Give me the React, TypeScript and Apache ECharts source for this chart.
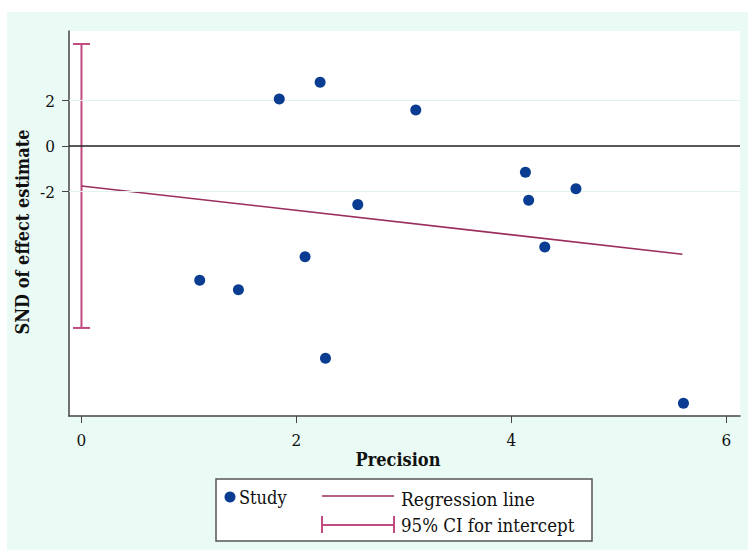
import React, { useEffect, useRef } from "react";
import * as echarts from "echarts";

// Study points (precision, standard normal deviate)
const precision = [1.84, 2.22, 3.11, 4.13, 4.16, 4.6, 2.57, 4.31, 2.08, 1.1, 1.46, 2.27, 5.6];
const snd = [2.07, 2.81, 1.59, -1.15, -2.38, -1.87, -2.57, -4.43, -4.86, -5.89, -6.31, -9.32, -11.3];

// Regression line end points
const regressionX = [0, 5.59];
const regressionY = [-1.75, -4.75];

// 95% CI for intercept (at precision 0)
const ciX = [0];
const ciLow = [-7.99];
const ciHigh = [4.49];

// Ticks
const xTicks = [0, 2, 4, 6];
const yTicks = [-2, 0, 2];
const gridLines = [-2, 2];

const FONT = "'DejaVu Serif Condensed', 'DejaVu Serif', serif";
const NAVY = "#0a3d91";
const MAROON = "#9b2d5c";
const CI_COLOR = "#c04b80";

export default function App() {
  const ref = useRef<HTMLDivElement>(null);

  useEffect(() => {
    document.body.style.margin = "0";
    if (!ref.current) return;
    const chart = echarts.init(ref.current, null, { renderer: "svg" });

    const option: any = {
      animation: false,
      backgroundColor: "#ffffff",
      grid: { left: 69, top: 31, width: 671, height: 385, show: false },
      xAxis: {
        type: "value",
        min: -0.116,
        max: 6.126,
        axisLine: { show: true, onZero: false, lineStyle: { color: "#444", width: 1.5 } },
        axisTick: { show: true, length: 7, customValues: xTicks, lineStyle: { color: "#444", width: 1 } },
        axisLabel: { customValues: xTicks, margin: 15, fontSize: 17, color: "#111", fontFamily: FONT },
        splitLine: { show: false },
      },
      yAxis: {
        type: "value",
        min: -11.86,
        max: 5.06,
        axisLine: { show: true, onZero: false, lineStyle: { color: "#444", width: 1.5 } },
        axisTick: { show: true, length: 7, customValues: yTicks, lineStyle: { color: "#444", width: 1 } },
        axisLabel: { customValues: yTicks, margin: 14, fontSize: 17, color: "#111", fontFamily: FONT },
        splitLine: { show: false },
      },
      series: [
        {
          type: "line",
          name: "grid",
          data: [],
          silent: true,
          z: 1,
          markLine: {
            silent: true,
            symbol: "none",
            label: { show: false },
            data: [
              ...gridLines.map((v) => ({ yAxis: v, lineStyle: { color: "#e4f2ef", width: 1.2, type: "solid" } })),
              { yAxis: 0, lineStyle: { color: "#222", width: 1.5, type: "solid" } },
            ],
          },
        },
        {
          type: "line",
          name: "Regression line",
          data: regressionX.map((x, i) => [x, regressionY[i]]),
          showSymbol: false,
          lineStyle: { color: MAROON, width: 1.6 },
          z: 3,
        },
        {
          type: "custom",
          name: "95% CI for intercept",
          data: ciX.map((x, i) => [x, ciLow[i], ciHigh[i]]),
          z: 3,
          renderItem: (params: any, api: any) => {
            const x = api.value(0);
            const lo = api.coord([x, api.value(1)]);
            const hi = api.coord([x, api.value(2)]);
            const hw = 8.5;
            const style = { stroke: CI_COLOR, lineWidth: 2 };
            return {
              type: "group",
              children: [
                { type: "line", shape: { x1: lo[0], y1: lo[1], x2: hi[0], y2: hi[1] }, style },
                { type: "line", shape: { x1: lo[0] - hw, y1: lo[1], x2: lo[0] + hw, y2: lo[1] }, style },
                { type: "line", shape: { x1: hi[0] - hw, y1: hi[1], x2: hi[0] + hw, y2: hi[1] }, style },
              ],
            };
          },
        },
        {
          type: "scatter",
          name: "Study",
          data: precision.map((x, i) => [x, snd[i]]),
          symbolSize: 11,
          itemStyle: { color: NAVY, opacity: 1 },
          z: 5,
        },
      ],
      graphic: [
        { type: "rect", z: -10, shape: { x: 7, y: 12, width: 741, height: 538 }, style: { fill: "#eafaf5" } },
        { type: "rect", z: -9, shape: { x: 69, y: 31, width: 671, height: 385 }, style: { fill: "#ffffff" } },
        {
          type: "text",
          x: 22,
          y: 232,
          rotation: Math.PI / 2,
          style: {
            text: "SND of effect estimate",
            font: `bold 18px ${FONT}`,
            fill: "#111",
            align: "center",
            verticalAlign: "middle",
          },
        },
        {
          type: "text",
          x: 398,
          y: 459,
          style: {
            text: "Precision",
            font: `bold 18px ${FONT}`,
            fill: "#111",
            align: "center",
            verticalAlign: "middle",
          },
        },
        // Legend
        { type: "rect", shape: { x: 216, y: 479, width: 376, height: 62 }, style: { fill: "#ffffff", stroke: "#555", lineWidth: 1.5 } },
        { type: "circle", shape: { cx: 230, cy: 497, r: 5.5 }, style: { fill: NAVY } },
        {
          type: "text",
          x: 239,
          y: 497,
          style: { text: "Study", font: `18px ${FONT}`, fill: "#111", align: "left", verticalAlign: "middle" },
        },
        { type: "line", shape: { x1: 322, y1: 496, x2: 394, y2: 496 }, style: { stroke: MAROON, lineWidth: 1.6 } },
        {
          type: "text",
          x: 401,
          y: 499,
          style: { text: "Regression line", font: `19px ${FONT}`, fill: "#111", align: "left", verticalAlign: "middle" },
        },
        { type: "line", shape: { x1: 322, y1: 525, x2: 394, y2: 525 }, style: { stroke: CI_COLOR, lineWidth: 2 } },
        { type: "line", shape: { x1: 322, y1: 516, x2: 322, y2: 533 }, style: { stroke: CI_COLOR, lineWidth: 2 } },
        { type: "line", shape: { x1: 394, y1: 516, x2: 394, y2: 533 }, style: { stroke: CI_COLOR, lineWidth: 2 } },
        {
          type: "text",
          x: 401,
          y: 525,
          style: { text: "95% CI for intercept", font: `18.5px ${FONT}`, fill: "#111", align: "left", verticalAlign: "middle" },
        },
      ],
    };

    chart.setOption(option);
    return () => chart.dispose();
  }, []);

  return <div ref={ref} style={{ width: 748, height: 550 }} />;
}
